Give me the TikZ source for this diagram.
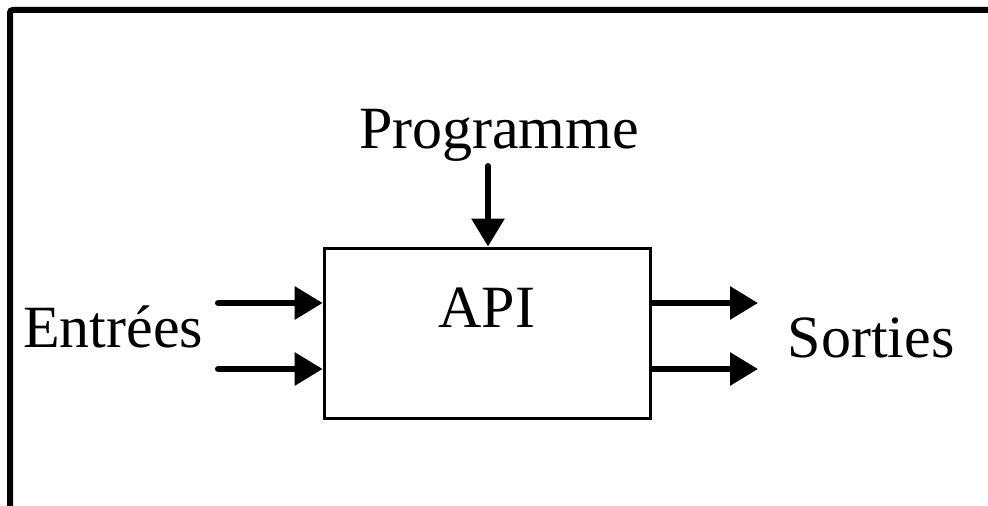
\documentclass[tikz,border=0pt]{standalone}
\usepackage{fontspec}
\setmainfont{Liberation Serif}
\usetikzlibrary{arrows.meta}
\usetikzlibrary{positioning}

\begin{document}
\begin{tikzpicture}[x=0.75pt, y=-0.75pt,
    >={Triangle[length=21pt,width=24pt]},
    fleche/.style={->, line width=4.5pt, line cap=round},
    boite/.style={draw, line width=2.25pt, minimum width=245pt, minimum height=127.5pt, inner sep=0pt},
    texte/.style={font=\fontsize{45}{54}\selectfont, inner sep=0pt, anchor=base}]
  \useasboundingbox (0,0) rectangle (988,506);
  % cadre
  \draw[line width=4.5pt, rounded corners=2pt] (10,506) -- (10,10) -- (988,10);

  % automate
  \node[boite] (api) at (487.5,333) {};
  \node[texte] (apitxt) at (487,327) {API};

  \node[texte] (prog) at (499,149) {Programme};
  \node[texte] (entrees) at (113,347) {Entrées};
  \node[texte] (sorties) at (871,357) {Sorties};

  \coordinate (p) at (488,166);
  \coordinate (e1) at (218,303);
  \coordinate (e2) at (218,369);
  \coordinate (s1) at (758,303);
  \coordinate (s2) at (758,369);

  \draw[fleche] (p) -- (p |- api.north);
  \draw[fleche] (e1) -- (e1 -| api.west);
  \draw[fleche] (e2) -- (e2 -| api.west);
  \draw[fleche] (s1 -| api.east) -- (s1);
  \draw[fleche] (s2 -| api.east) -- (s2);
\end{tikzpicture}
\end{document}
